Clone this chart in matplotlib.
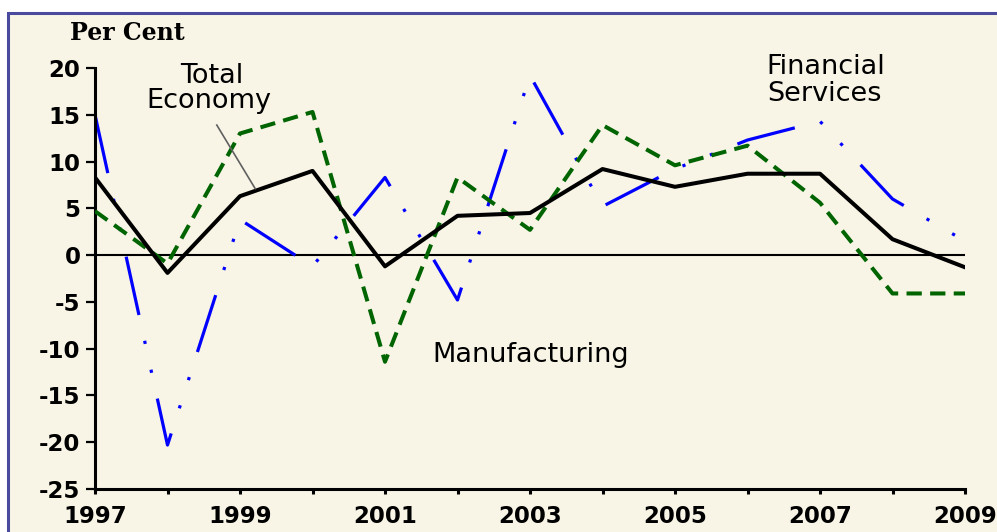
import matplotlib
matplotlib.use("Agg")
import matplotlib.pyplot as plt
from matplotlib.patches import Rectangle

# ---------------------- DATA ----------------------
years = [1997, 1998, 1999, 2000, 2001, 2002, 2003, 2004, 2005, 2006, 2007, 2008, 2009]
total_economy = [8.3, -1.9, 6.3, 9.0, -1.2, 4.2, 4.5, 9.2, 7.3, 8.7, 8.7, 1.7, -1.3]
manufacturing = [4.7, -0.9, 13.0, 15.3, -11.4, 8.3, 2.7, 13.9, 9.6, 11.7, 5.6, -4.1, -4.1]
financial = [15.0, -20.3, 3.8, -1.2, 8.3, -4.8, 19.2, 5.2, 9.2, 12.3, 14.3, 6.0, 1.5]
y_ticks = [20, 15, 10, 5, 0, -5, -10, -15, -20, -25]
x_labels = [1997, 1999, 2001, 2003, 2005, 2007, 2009]

# ---------------------- STYLE ----------------------
BG = "#F8F5E6"
plt.rcParams["font.family"] = "DejaVu Sans"
plt.rcParams["axes.unicode_minus"] = False
plt.rcParams["lines.scale_dashes"] = False

fig = plt.figure(figsize=(9.97, 5.32), dpi=100, facecolor="white")

# cream panel with blue frame (left/top edges visible)
fig.patches.append(Rectangle((8 / 997, -0.05), 1.2, 1 - 13 / 532 + 0.05,
                             transform=fig.transFigure, facecolor=BG,
                             edgecolor="#4A4A9E", linewidth=2.2, zorder=-5))

ax = fig.add_axes([95 / 997, 1 - 489 / 532, (965 - 95) / 997, (489 - 68) / 532])
ax.set_facecolor("none")

# ---------------------- LINES ----------------------
ax.axhline(0, color="black", lw=1.5, zorder=1)
ax.plot(years, financial, color="#0000FF", lw=2.3, solid_capstyle="butt",
        dash_capstyle="butt", linestyle=(0, (43, 19, 2.3, 19, 2.3, 19)), zorder=2)
ax.plot(years, manufacturing, color="#006400", lw=2.9, dash_capstyle="butt",
        linestyle=(0, (11, 6)), zorder=3)
ax.plot(years, total_economy, color="black", lw=2.9, zorder=4)

# ---------------------- AXES ----------------------
ax.set_xlim(1997, 2009)
ax.set_ylim(-25, 20)
ax.set_yticks(y_ticks)
ax.set_yticklabels([str(v) for v in y_ticks], fontweight="bold")
ax.set_xticks(years)
ax.set_xticklabels([str(y) if y in x_labels else "" for y in years], fontweight="bold")
ax.tick_params(axis="y", length=6.5, width=1.6, pad=4, labelsize=16.5)
ax.tick_params(axis="x", length=3.6, width=2.2, pad=8, labelsize=16.5)
for side in ["top", "right"]:
    ax.spines[side].set_visible(False)
for side in ["left", "bottom"]:
    ax.spines[side].set_linewidth(2.2)

# ---------------------- TEXT ----------------------
fig.text(70 / 997, 1 - 33 / 532, "Per Cent", family="DejaVu Serif",
         weight="bold", fontsize=17, va="center", ha="left")
ax.text(1998.61, 19.1, "Total", fontsize=19.5, ha="center", va="center")
ax.text(1998.57, 16.5, "Economy", fontsize=19.5, ha="center", va="center")
ax.plot([1998.68, 1999.21], [13.9, 7.1], color="#606060", lw=1.2, zorder=5)
ax.text(2006.26, 20.1, "Financial", fontsize=19.5, ha="left", va="center", clip_on=False)
ax.text(2006.27, 17.2, "Services", fontsize=19.5, ha="left", va="center")
ax.text(2001.66, -10.65, "Manufacturing", fontsize=19.5, ha="left", va="center")

fig.savefig("out.png", dpi=100, facecolor="white")
